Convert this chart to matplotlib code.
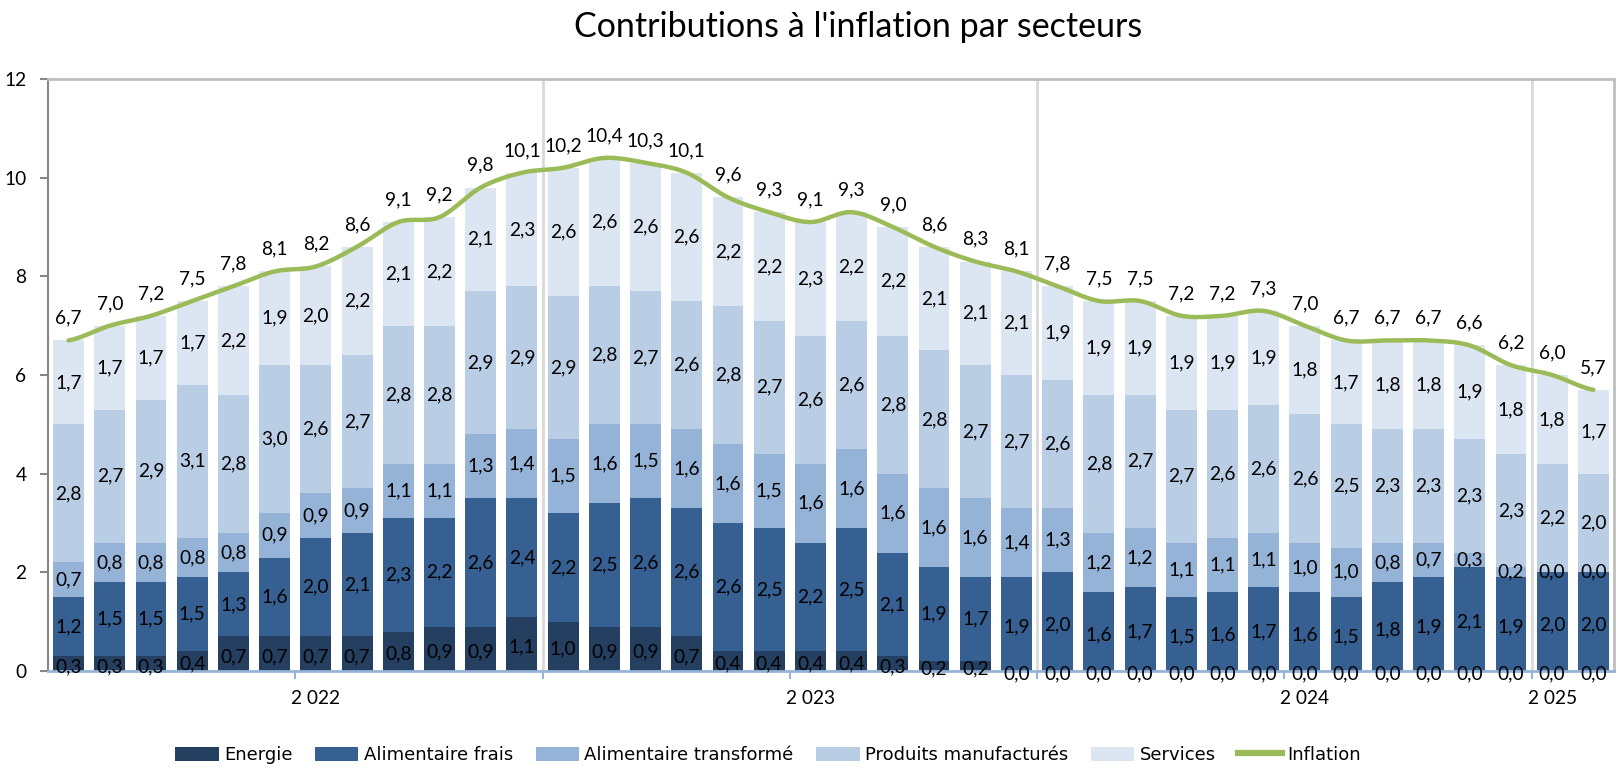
import matplotlib
matplotlib.use("Agg")
import matplotlib.pyplot as plt
import numpy as np
from matplotlib.patches import Patch
from matplotlib.lines import Line2D

# ---------------- data ----------------
energie = [0.3,0.3,0.3,0.4,0.7,0.7,0.7,0.7,0.8,0.9,0.9,1.1,
           1.0,0.9,0.9,0.7,0.4,0.4,0.4,0.4,0.3,0.2,0.2,0.0,
           0.0,0.0,0.0,0.0,0.0,0.0,0.0,0.0,0.0,0.0,0.0,0.0,
           0.0,0.0]
alim_frais = [1.2,1.5,1.5,1.5,1.3,1.6,2.0,2.1,2.3,2.2,2.6,2.4,
              2.2,2.5,2.6,2.6,2.6,2.5,2.2,2.5,2.1,1.9,1.7,1.9,
              2.0,1.6,1.7,1.5,1.6,1.7,1.6,1.5,1.8,1.9,2.1,1.9,
              2.0,2.0]
alim_transf = [0.7,0.8,0.8,0.8,0.8,0.9,0.9,0.9,1.1,1.1,1.3,1.4,
               1.5,1.6,1.5,1.6,1.6,1.5,1.6,1.6,1.6,1.6,1.6,1.4,
               1.3,1.2,1.2,1.1,1.1,1.1,1.0,1.0,0.8,0.7,0.3,0.2,
               0.0,0.0]
manuf = [2.8,2.7,2.9,3.1,2.8,3.0,2.6,2.7,2.8,2.8,2.9,2.9,
         2.9,2.8,2.7,2.6,2.8,2.7,2.6,2.6,2.8,2.8,2.7,2.7,
         2.6,2.8,2.7,2.7,2.6,2.6,2.6,2.5,2.3,2.3,2.3,2.3,
         2.2,2.0]
services = [1.7,1.7,1.7,1.7,2.2,1.9,2.0,2.2,2.1,2.2,2.1,2.3,
            2.6,2.6,2.6,2.6,2.2,2.2,2.3,2.2,2.2,2.1,2.1,2.1,
            1.9,1.9,1.9,1.9,1.9,1.9,1.8,1.7,1.8,1.8,1.9,1.8,
            1.8,1.7]
inflation = [6.7,7.0,7.2,7.5,7.8,8.1,8.2,8.6,9.1,9.2,9.8,10.1,
             10.2,10.4,10.3,10.1,9.6,9.3,9.1,9.3,9.0,8.6,8.3,8.1,
             7.8,7.5,7.5,7.2,7.2,7.3,7.0,6.7,6.7,6.7,6.6,6.2,
             6.0,5.7]
series_names = ["Energie", "Alimentaire frais", "Alimentaire transformé",
                "Produits manufacturés", "Services"]
year_labels = ["2 022", "2 023", "2 024", "2 025"]
year_label_pos = [6, 18, 30, 36]
year_separators = [11.5, 23.5, 35.5]
half_year_ticks = [5.5, 11.5, 17.5, 23.5, 29.5, 35.5]

colors = ["#243F60", "#366092", "#95B3D7", "#B9CDE5", "#DCE6F2"]
line_color = "#9BBB59"

FONT = ["Lato", "DejaVu Sans"]
plt.rcParams['font.family'] = FONT

def fmt(v):
    return f"{v:.1f}".replace(".", ",")

fig = plt.figure(figsize=(16.24, 7.73), dpi=100)
ax = fig.add_axes([48/1624, 102/773, (1614-48)/1624, (671-79)/773])

n = len(inflation)
x = np.arange(n)
stack = [energie, alim_frais, alim_transf, manuf, services]
bottom = np.zeros(n)
LBL = 13.8
for vals, c, name in zip(stack, colors, series_names):
    vals = np.array(vals)
    ax.bar(x, vals, width=0.75, bottom=bottom, color=c, zorder=2, label=name)
    for xi, b, v in zip(x, bottom, vals):
        ax.text(xi, b + v/2 - (0.06 if b == 0 else 0), fmt(v), ha="center", va="center",
                fontsize=LBL, color="black", zorder=7)
    bottom = bottom + vals

# smoothed inflation curve (Catmull-Rom through the data points)
xi_all, yi_all = [], []
pts = np.array(inflation)
for i in range(n - 1):
    p0 = pts[i-1] if i > 0 else pts[i]
    p1, p2 = pts[i], pts[i+1]
    p3 = pts[i+2] if i + 2 < n else pts[i+1]
    t = np.linspace(0, 1, 20, endpoint=False)
    y = 0.5*((2*p1) + (-p0+p2)*t + (2*p0-5*p1+4*p2-p3)*t**2 + (-p0+3*p1-3*p2+p3)*t**3)
    xi_all.extend(i + t)
    yi_all.extend(y)
xi_all.append(n-1); yi_all.append(pts[-1])
ax.plot(xi_all, yi_all, color=line_color, lw=3.2, zorder=4, solid_capstyle="round")
for xi, v in zip(x, inflation):
    ax.text(xi, v + 0.45, fmt(v), ha="center", va="center", fontsize=LBL, zorder=7)

for s in year_separators:
    ax.axvline(s, color="#D9D9D9", lw=2, zorder=0)

ax.set_xlim(-0.5, n - 0.5)
ax.set_ylim(0, 12)
ax.set_yticks(np.arange(0, 13, 2))
ax.set_yticklabels([str(v) for v in range(0, 13, 2)], fontsize=LBL)
ax.tick_params(axis="y", length=6, width=1.5, color="#868686", pad=9.5)

ax.set_xticks(half_year_ticks)
ax.set_xticklabels([""] * len(half_year_ticks))
ax.tick_params(axis="x", which="major", length=6, width=1.5, color="#95B3D7", direction="out")
ax.set_xticks(year_label_pos, minor=True)
ax.set_xticklabels(year_labels, minor=True, fontsize=LBL)
ax.tick_params(axis="x", which="minor", length=0, pad=14)

ax.spines["left"].set_color("#868686"); ax.spines["left"].set_linewidth(1.5)
ax.spines["bottom"].set_color("#95B3D7"); ax.spines["bottom"].set_linewidth(2)
ax.spines["top"].set_color("#BFBFBF"); ax.spines["top"].set_linewidth(2)
ax.spines["right"].set_color("#BFBFBF"); ax.spines["right"].set_linewidth(2)
ax.spines["bottom"].set_zorder(6)

fig.text(858/1624, 1 - 27/773, "Contributions à l'inflation par secteurs",
         ha="center", va="center", fontsize=24.5)

handles = [Patch(facecolor=c, edgecolor="none") for c in colors]
handles.append(Line2D([0], [0], color=line_color, lw=4.5))
labels = series_names + ["Inflation"]
leg = fig.legend(handles, labels, loc="center", bbox_to_anchor=(768/1624, 1 - 755/773),
                 ncol=6, frameon=False, handlelength=2.4, handleheight=0.8,
                 handletextpad=0.3, columnspacing=1.25,
                 prop={"family": ["Liberation Sans Narrow", "DejaVu Sans"], "size": 13})

fig.savefig("out.png", dpi=100)
